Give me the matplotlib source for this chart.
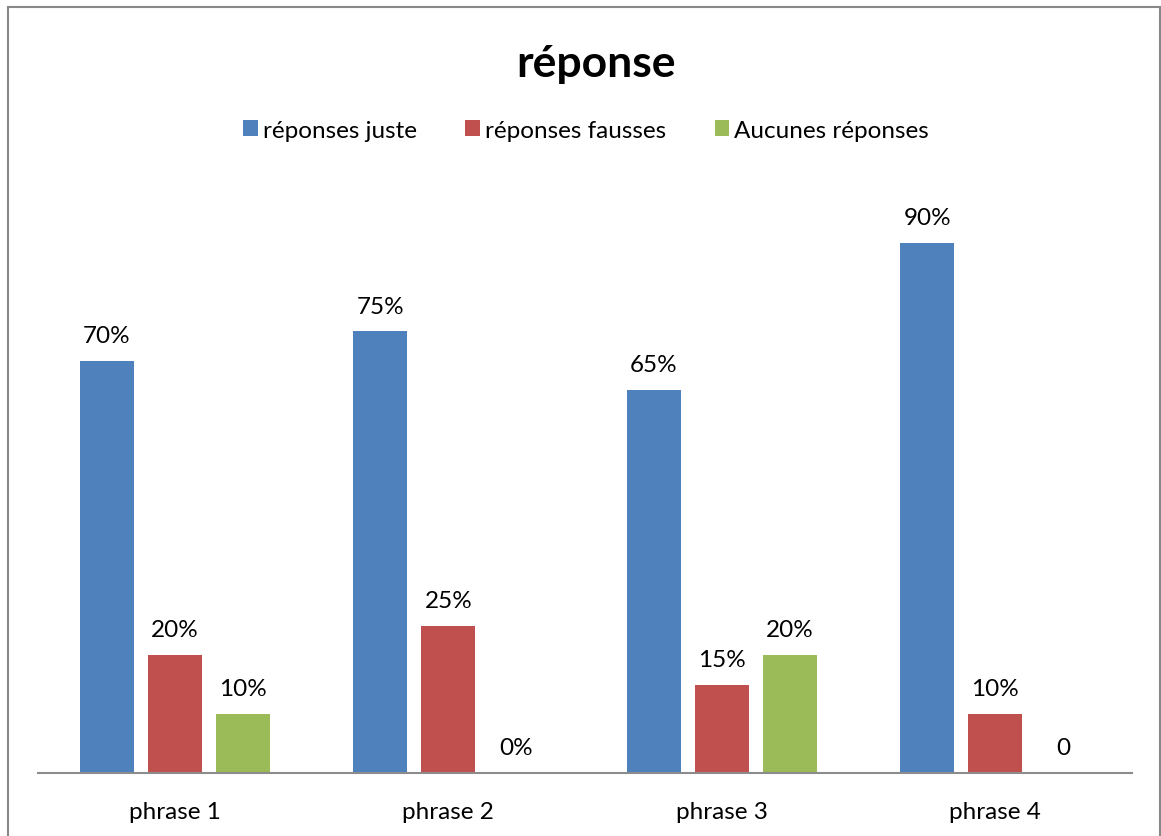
import numpy as np
import matplotlib.pyplot as plt
from matplotlib.patches import Rectangle

plt.rcParams['font.family'] = ['Lato', 'DejaVu Sans']

categories = ["phrase 1", "phrase 2", "phrase 3", "phrase 4"]
series_names = ["réponses juste", "réponses fausses", "Aucunes réponses"]
justes = [0.70, 0.75, 0.65, 0.90]
fausses = [0.20, 0.25, 0.15, 0.10]
aucunes = [0.10, 0.0, 0.20, 0.0]
labels_justes = ["70%", "75%", "65%", "90%"]
labels_fausses = ["20%", "25%", "15%", "10%"]
labels_aucunes = ["10%", "0%", "20%", "0"]

colors = ["#4F81BD", "#C0504D", "#9BBB59"]

fig = plt.figure(figsize=(11.61, 8.37), dpi=100)
ax = fig.add_axes([38/1161, 63/837, 1094/1161, 589/837])

x = np.arange(len(categories))
offset = 0.249
width = 0.197
data = [justes, fausses, aucunes]
labels = [labels_justes, labels_fausses, labels_aucunes]
for i, (vals, labs) in enumerate(zip(data, labels)):
    pos = x + (i - 1) * offset
    ax.bar(pos, vals, width, color=colors[i], label=series_names[i])
    for p, v, t in zip(pos, vals, labs):
        ax.text(p, v + 0.025, t, ha="center", va="bottom", fontsize=17.5)

ax.set_xlim(-0.5, 3.5)
ax.set_ylim(0, 1.0)
ax.set_xticks(x)
ax.set_xticklabels(categories, fontsize=17.5)
ax.tick_params(axis="x", length=0, pad=20)
ax.set_yticks([])
for s in ["top", "right", "left"]:
    ax.spines[s].set_visible(False)
ax.spines["bottom"].set_color("#8c8c8c")
ax.spines["bottom"].set_linewidth(1.5)

fig.text(596/1161, 1 - 64/837, "réponse", ha="center", va="center",
         fontsize=32, fontweight="bold")
fig.legend(loc="center", bbox_to_anchor=(586/1161, 1 - 131/837), ncol=3,
           frameon=False, fontsize=17.5, handlelength=0.6, handleheight=0.6,
           handletextpad=0.2, columnspacing=2.0)

fig.patches.append(Rectangle((8/1161, -0.05), 1152/1161, 1.05 - 8/837,
                             transform=fig.transFigure, fill=False,
                             edgecolor="#888888", linewidth=1.5))

fig.savefig("out.png", dpi=100)
